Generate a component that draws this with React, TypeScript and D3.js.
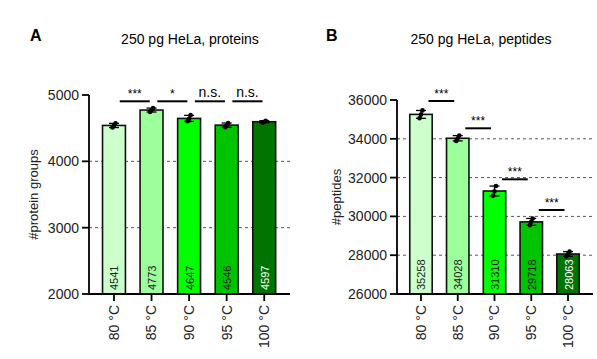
import React from 'react';
import * as d3 from 'd3';

// categories
const temps = ['80 °C', '85 °C', '90 °C', '95 °C', '100 °C'];

// panel A: protein groups
const proteinMeans = [4541, 4773, 4647, 4546, 4597];
const proteinReps = [
    [4510, 4540, 4573],
    [4745, 4770, 4804],
    [4605, 4640, 4696],
    [4515, 4545, 4578],
    [4582, 4597, 4612],
];
const proteinTicks = [2000, 3000, 4000, 5000];
const proteinGrid = [3000, 4000];
const proteinSig = ['***', '*', 'n.s.', 'n.s.'];
const proteinSigLevel = [4905, 4905, 4905, 4905];

// panel B: peptides
const peptideMeans = [35258, 34028, 31310, 29718, 28063];
const peptideReps = [
    [35060, 35250, 35464],
    [33890, 34030, 34164],
    [31060, 31300, 31570],
    [29540, 29720, 29894],
    [27940, 28065, 28184],
];
const peptideTicks = [26000, 28000, 30000, 32000, 34000, 36000];
const peptideGrid = [28000, 30000, 32000, 34000];
const peptideSig = ['***', '***', '***', '***'];
const peptideSigLevel = [35948, 34541, 31912, 30330];

const barColors = ['#ccffcc', '#9cff9c', '#00ff00', '#00c400', '#007300'];
const labelColors = ['#222', '#222', '#222', '#222', '#fff'];
const font = '"Liberation Sans", Arial, sans-serif';

type PanelProps = {
    letter: string;
    title: string;
    yLabel: string;
    means: number[];
    reps: number[][];
    ticks: number[];
    grid: number[];
    sig: string[];
    sigLevel: number[];
    axisX: number;
    xRange: [number, number];
    xEnd: number;
    yTop: number;
    yLabelX: number;
    letterX: number;
    titleX: number;
    sigWidth: number;
};

function Panel(p: PanelProps) {
    const yBottom = 294;
    const y = d3.scaleLinear()
        .domain([p.ticks[0], p.ticks[p.ticks.length - 1]])
        .range([yBottom, p.yTop]);
    const x = d3.scaleBand()
        .domain(temps)
        .range(p.xRange)
        .paddingInner(0.39)
        .paddingOuter(0.195);
    const bw = x.bandwidth();
    const step = x.step();
    const cx = (t: string) => (x(t) as number) + bw / 2;

    return (
        <g fontFamily={font}>
            <text x={p.letterX} y={41} fontSize={16} fontWeight="bold">{p.letter}</text>
            <text x={p.titleX} y={44} fontSize={14} textAnchor="middle">{p.title}</text>

            {/* grid */}
            {p.grid.map(g => (
                <line key={g} x1={p.axisX} x2={p.xEnd} y1={y(g)} y2={y(g)}
                    stroke="#555" strokeWidth={1} strokeDasharray="3,3" />
            ))}

            {/* bars */}
            {temps.map((t, i) => (
                <rect key={t} x={x(t)} y={y(p.means[i])} width={bw}
                    height={yBottom - y(p.means[i])}
                    fill={barColors[i]} stroke="#111" strokeWidth={1.6} />
            ))}

            {/* error bars and replicates */}
            {temps.map((t, i) => {
                const sd = d3.deviation(p.reps[i]) as number;
                const c = cx(t);
                const lo = y(p.means[i] - sd);
                const hi = y(p.means[i] + sd);
                return (
                    <g key={t} stroke="#000" strokeWidth={1.3}>
                        <line x1={c} x2={c} y1={lo} y2={hi} />
                        <line x1={c - 5} x2={c + 5} y1={hi} y2={hi} />
                        <line x1={c - 5} x2={c + 5} y1={lo} y2={lo} />
                        {p.reps[i].map((r, j) => (
                            <circle key={j} cx={c + (j - 1) * 1.5} cy={y(r)} r={2.3} fill="#000" stroke="none" />
                        ))}
                    </g>
                );
            })}

            {/* value labels */}
            {temps.map((t, i) => (
                <text key={t} transform={`translate(${cx(t) + 4.5},${yBottom - 4}) rotate(-90)`}
                    fontSize={11} fill={labelColors[i]}>{p.means[i]}</text>
            ))}

            {/* significance */}
            {p.sig.map((s, i) => {
                const mid = cx(temps[i]) + step / 2 + 2;
                const ly = y(p.sigLevel[i]);
                const half = (step * p.sigWidth) / 2;
                return (
                    <g key={i}>
                        <line x1={mid - half} x2={mid + half} y1={ly} y2={ly} stroke="#000" strokeWidth={2} />
                        <text x={mid} y={ly - (s === 'n.s.' ? 4 : 3)} textAnchor="middle"
                            fontSize={s === 'n.s.' ? 14 : 12}>{s}</text>
                    </g>
                );
            })}

            {/* y axis */}
            <line x1={p.axisX} x2={p.axisX} y1={p.yTop} y2={yBottom} stroke="#000" strokeWidth={1.8} />
            {p.ticks.map(tk => (
                <g key={tk}>
                    <line x1={p.axisX - 7} x2={p.axisX} y1={y(tk)} y2={y(tk)} stroke="#000" strokeWidth={1.8} />
                    <text x={p.axisX - 10} y={y(tk)} dy="0.36em" textAnchor="end" fontSize={14} fill="#222">{tk}</text>
                </g>
            ))}
            <text transform={`translate(${p.yLabelX},${(p.yTop + yBottom) / 2}) rotate(-90)`}
                textAnchor="middle" fontSize={13} fill="#222">{p.yLabel}</text>

            {/* x axis */}
            <line x1={p.axisX} x2={p.xEnd} y1={yBottom} y2={yBottom} stroke="#000" strokeWidth={1.8} />
            {temps.map(t => (
                <g key={t}>
                    <line x1={cx(t)} x2={cx(t)} y1={yBottom} y2={yBottom + 7} stroke="#000" strokeWidth={1.8} />
                    <text transform={`translate(${cx(t)},${yBottom + 11}) rotate(-90)`} dy="0.35em"
                        textAnchor="end" fontSize={14} fill="#222">{t}</text>
                </g>
            ))}
        </g>
    );
}

export default function App() {
    return (
        <svg width={597} height={359} style={{ position: 'absolute', left: 0, top: 0, background: '#fff' }}>
            <rect width={597} height={359} fill="#fff" />
            <Panel letter="A" title="250 pg HeLa, proteins" yLabel="#protein groups"
                means={proteinMeans} reps={proteinReps} ticks={proteinTicks} grid={proteinGrid}
                sig={proteinSig} sigLevel={proteinSigLevel}
                axisX={89} xRange={[95.2, 283]} xEnd={290} yTop={95} yLabelX={38}
                letterX={30} titleX={190} sigWidth={0.8} />
            <Panel letter="B" title="250 pg HeLa, peptides" yLabel="#peptides"
                means={peptideMeans} reps={peptideReps} ticks={peptideTicks} grid={peptideGrid}
                sig={peptideSig} sigLevel={peptideSigLevel}
                axisX={397} xRange={[402.6, 586.4]} xEnd={593} yTop={100} yLabelX={341}
                letterX={326} titleX={481} sigWidth={0.7} />
        </svg>
    );
}
